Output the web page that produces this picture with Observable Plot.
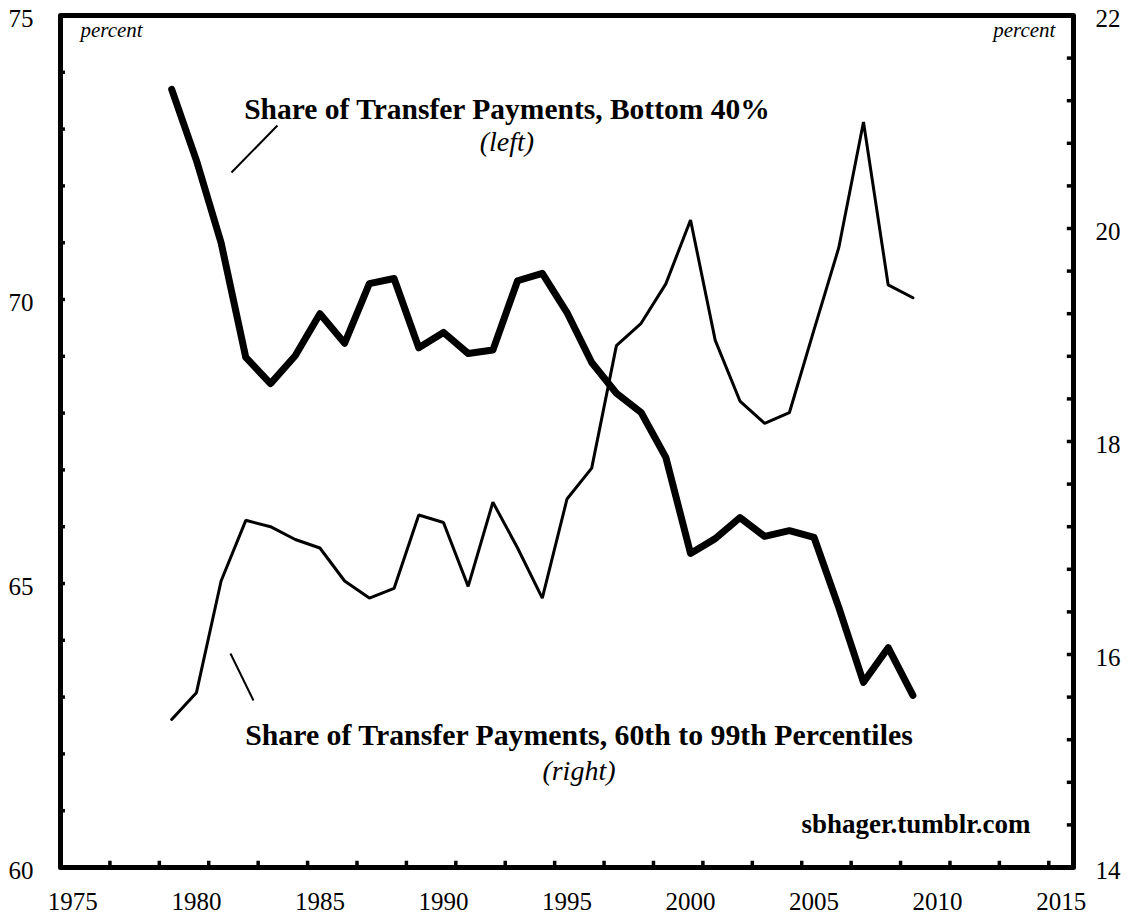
<!DOCTYPE html>
<html>
<head>
<meta charset="utf-8">
<script src="https://cdn.jsdelivr.net/npm/d3@7"></script>
<script src="https://cdn.jsdelivr.net/npm/@observablehq/plot@0.6"></script>
<style>
  html, body { margin: 0; padding: 0; background: #fff; }
  #chart svg { display: block; }
  #chart svg text { font-family: 'Liberation Serif','Times New Roman',Times,serif; }
</style>
</head>
<body>
<div id="chart"></div>
<script>
// ---- data ----
const years = [1979,1980,1981,1982,1983,1984,1985,1986,1987,1988,1989,1990,1991,1992,1993,1994,1995,1996,1997,1998,1999,2000,2001,2002,2003,2004,2005,2006,2007,2008,2009];
const bottom40 = [73.70,72.45,71.00,68.98,68.52,69.01,69.75,69.23,70.28,70.37,69.15,69.42,69.05,69.11,70.33,70.46,69.77,68.89,68.35,68.01,67.22,65.53,65.79,66.16,65.83,65.93,65.81,64.58,63.26,63.87,63.03];
const pct60to99 = [15.39,15.64,16.69,17.26,17.20,17.08,17.00,16.69,16.53,16.62,17.31,17.24,16.64,17.43,17.00,16.53,17.46,17.75,18.90,19.11,19.48,20.08,18.95,18.38,18.17,18.27,19.05,19.82,21.00,19.47,19.35];
const leftTickLabels = [60,65,70,75];
const rightTickLabels = [14,16,18,20,22];
const xTickLabels = [1975,1980,1985,1990,1995,2000,2005,2010,2015];

// ---- helpers ----
const L0 = 60, L1 = 75, R0 = 14, R1 = 22;
const toLeft = r => L0 + (r - R0) * (L1 - L0) / (R1 - R0);
const toRight = l => R0 + (l - L0) * (R1 - R0) / (L1 - L0);

const leftData = years.map((y, i) => ({year: y, v: bottom40[i]}));
const rightData = years.map((y, i) => ({year: y, v: toLeft(pct60to99[i])}));

const serif = "'Liberation Serif','Times New Roman',Times,serif";

const leftMinor = d3.range(61, 75);
const rightMinor = d3.range(1, 20).map(k => toLeft(R0 + 0.4 * k));
const xMinor = d3.range(1976.5, 2015, 2);

const chart = Plot.plot({
  width: 1134,
  height: 918,
  marginLeft: 60,
  marginRight: 61,
  marginTop: 15,
  marginBottom: 51,
  style: {fontFamily: serif, background: "#fff", color: "#000"},
  x: {domain: [1974.5, 2015.5]},
  y: {domain: [L0, L1]},
  marks: [
    // tick labels
    Plot.axisY(leftTickLabels, {anchor: "left", tickSize: 0, tickPadding: 27, fontSize: 25, dy: 3, label: null, fontFamily: serif,
      tickFormat: d => String(d)}),
    Plot.axisY(rightTickLabels.map(toLeft), {anchor: "right", tickSize: 0, tickPadding: 22, fontSize: 25, dy: 3, label: null, fontFamily: serif,
      tickFormat: d => String(Math.round(toRight(d)))}),
    Plot.axisX(xTickLabels, {anchor: "bottom", tickSize: 0, tickPadding: 25, fontSize: 25, label: null, fontFamily: serif, tickFormat: d => String(d)}),
    // inward minor ticks
    Plot.ruleY(leftMinor, {x1: 1974.5, x2: 1974.5 + 0.2, stroke: "#000", strokeWidth: 3.5}),
    Plot.ruleY(rightMinor, {x1: 2015.5 - 0.25, x2: 2015.5, stroke: "#000", strokeWidth: 3.5}),
    Plot.ruleX(xMinor, {y1: L0, y2: L0 + 0.11, stroke: "#000", strokeWidth: 3.5}),
    // series
    Plot.line(rightData, {x: "year", y: "v", stroke: "#000", strokeWidth: 3, strokeLinejoin: "miter"}),
    Plot.line(leftData, {x: "year", y: "v", stroke: "#000", strokeWidth: 7, strokeLinejoin: "round", strokeLinecap: "round"}),
    // frame
    Plot.frame({stroke: "#000", strokeWidth: 5, strokeLinejoin: "round"}),
    // unit labels
    Plot.text(["percent"], {x: 1975.31, y: 74.74, text: d => d, textAnchor: "start", fontSize: 21, fontStyle: "italic", fontFamily: serif}),
    Plot.text(["percent"], {x: 2014.77, y: 74.74, text: d => d, textAnchor: "end", fontSize: 21, fontStyle: "italic", fontFamily: serif}),
    // annotations
    Plot.text(["Share of Transfer Payments, Bottom 40%"], {x: 1992.57, y: 75 - (118 - 15) / 56.8, text: d => d, lineAnchor: "bottom", fontSize: 29.5, fontWeight: "bold", fontFamily: serif}),
    Plot.text(["(left)"], {x: 1992.57, y: 75 - (150 - 15) / 56.8, text: d => d, lineAnchor: "bottom", fontSize: 28, fontStyle: "italic", fontFamily: serif}),
    Plot.text(["Share of Transfer Payments, 60th to 99th Percentiles"], {x: 1974.5 + (578.5 - 60) / 24.71, y: 75 - (744 - 15) / 56.8, text: d => d, lineAnchor: "bottom", fontSize: 29.8, fontWeight: "bold", fontFamily: serif}),
    Plot.text(["(right)"], {x: 1974.5 + (578.5 - 60) / 24.71, y: 75 - (779 - 15) / 56.8, text: d => d, lineAnchor: "bottom", fontSize: 28, fontStyle: "italic", fontFamily: serif}),
    Plot.text(["sbhager.tumblr.com"], {x: 2013.76, y: 60.6, text: d => d, textAnchor: "end", lineAnchor: "bottom", fontSize: 27, fontWeight: "bold", fontFamily: serif}),
    // leader lines
    Plot.link([{x1: 1981.42, y1: 72.236, x2: 1983.28, y2: 73.063}], {x1: "x1", y1: "y1", x2: "x2", y2: "y2", stroke: "#000", strokeWidth: 2}),
    Plot.link([{x1: 1981.38, y1: 63.768, x2: 1982.31, y2: 62.94}], {x1: "x1", y1: "y1", x2: "x2", y2: "y2", stroke: "#000", strokeWidth: 2})
  ]
});
document.getElementById("chart").appendChild(chart);
</script>
</body>
</html>
